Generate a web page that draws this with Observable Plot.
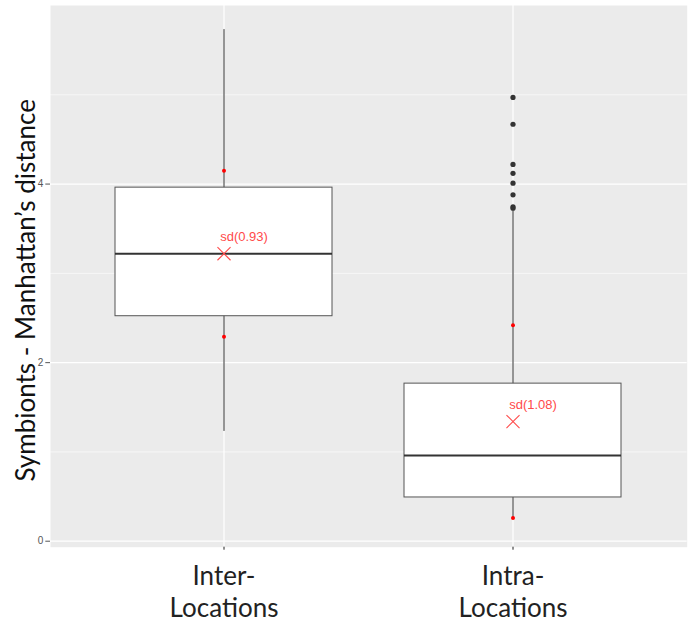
<!DOCTYPE html>
<html><head><meta charset="utf-8">
<script src="https://cdn.jsdelivr.net/npm/d3@7"></script>
<script src="https://cdn.jsdelivr.net/npm/@observablehq/plot@0.6"></script>
<style>body{margin:0;background:#fff}</style>
</head><body><div id="chart"></div>
<script>
const categories = ["Inter-Locations", "Intra-Locations"];
const tickLabels = ["Inter-\nLocations", "Intra-\nLocations"];
const q1 = [2.52, 0.49];
const medians = [3.22, 0.96];
const q3 = [3.96, 1.765];
const whiskerLow = [1.23, 0.25];
const whiskerHigh = [5.73, 3.70];
const means = [3.22, 1.34];
const sds = [0.93, 1.08];
const outlierCategory = ["Intra-Locations","Intra-Locations","Intra-Locations","Intra-Locations","Intra-Locations","Intra-Locations","Intra-Locations","Intra-Locations"];
const outlierValues = [4.97, 4.67, 4.22, 4.12, 4.01, 3.88, 3.745, 3.73];
const yTicks = [0, 2, 4];
const yMinor = [1, 3, 5];
const yLabel = "Symbionts - Manhattan\u2019s distance";

const boxes = categories.map((c, i) => ({
  cat: c, q1: q1[i], median: medians[i], q3: q3[i],
  lo: whiskerLow[i], hi: whiskerHigh[i], mean: means[i], sd: sds[i]
}));
const outliers = outlierValues.map((v, i) => ({cat: outlierCategory[i], v}));
const sdPoints = boxes.flatMap(b => [{cat: b.cat, v: b.mean + b.sd}, {cat: b.cat, v: b.mean - b.sd}]);

const chart = Plot.plot({
  width: 691, height: 623,
  marginLeft: 50, marginRight: 4.3, marginTop: 5, marginBottom: 76.3,
  style: {fontFamily: "Liberation Sans, Arial, sans-serif", background: "#fff"},
  x: {type: "band", domain: categories, paddingInner: 0.25, paddingOuter: 0.225, axis: null},
  y: {domain: [-0.067, 6.0], axis: null},
  marks: [
    Plot.frame({fill: "#ebebeb", stroke: "none"}),
    Plot.ruleY(yMinor, {stroke: "#fff", strokeWidth: 0.6}),
    Plot.ruleY(yTicks, {stroke: "#fff", strokeWidth: 1.2}),
    Plot.ruleX(categories, {x: d => d, stroke: "#fff", strokeWidth: 1.2}),
    Plot.ruleX(boxes, {x: "cat", y1: "lo", y2: "hi", stroke: "#333", strokeWidth: 1}),
    Plot.barY(boxes, {x: "cat", y1: "q1", y2: "q3", fill: "#fff", stroke: "#555", strokeWidth: 1}),
    Plot.tickY(boxes, {x: "cat", y: "median", stroke: "#333", strokeWidth: 2}),
    Plot.dot(outliers, {x: "cat", y: "v", r: 2.6, fill: "#333", stroke: "none"}),
    Plot.dot(sdPoints, {x: "cat", y: "v", r: 2, fill: "#ff0000", stroke: "none"}),
    Plot.dot(boxes, {x: "cat", y: "mean", symbol: "times", r: 6, stroke: "#ff4a4a", strokeWidth: 1.1}),
    Plot.text(boxes, {x: "cat", y: "mean", text: d => `sd(${d.sd.toFixed(2)})`, dx: 20, dy: -17, fill: "#ff4a4a", fontSize: 13}),
    Plot.axisY(yTicks, {tickSize: 4.7, tickPadding: 2.5, fontSize: 10, color: "#555", label: null, tickFormat: d => String(d)}),
    Plot.axisX({tickFormat: d => tickLabels[categories.indexOf(d)], fontSize: 26, fontFamily: "Lato, sans-serif",
      tickSize: 3, tickPadding: 13, lineHeight: 1.2, color: "#222", label: null}),
    Plot.text([yLabel], {frameAnchor: "left", rotate: -90, dx: -24, dy: 14, textAnchor: "middle",
      fontSize: 26, fontFamily: "Lato, sans-serif", fill: "#111"})
  ]
});
document.getElementById("chart").appendChild(chart);
</script>
</body></html>
